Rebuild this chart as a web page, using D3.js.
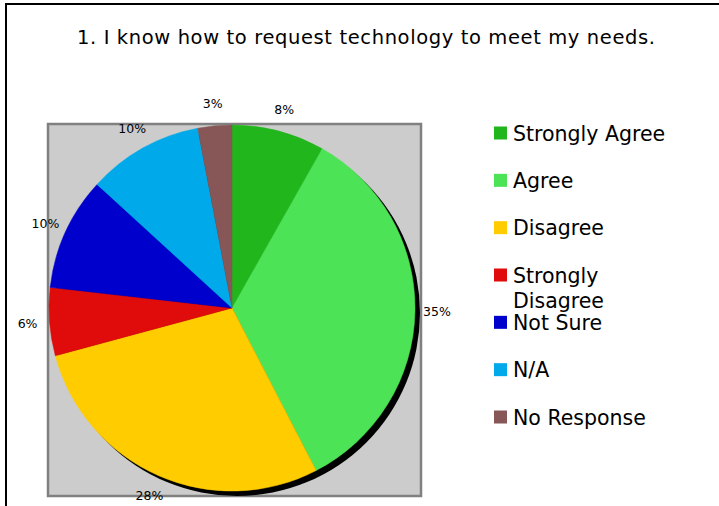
<!DOCTYPE html>
<html>
<head>
<meta charset="utf-8">
<script src="https://cdn.jsdelivr.net/npm/d3@7"></script>
<style>
  html, body { margin: 0; padding: 0; background: #fff; }
  svg { display: block; }
  text { font-family: "DejaVu Sans", Verdana, sans-serif; fill: #000; }
</style>
</head>
<body>
<svg id="chart" width="719" height="506"></svg>
<script>
const title = "1. I know how to request technology to meet my needs.";
const categories = ["Strongly Agree", "Agree", "Disagree", "Strongly Disagree", "Not Sure", "N/A", "No Response"];
const values = [8.2, 34.2, 28.4, 6.0, 10.0, 10.2, 3.0];
const pctLabels = ["8%", "35%", "28%", "6%", "10%", "10%", "3%"];
const colors = ["#21b61b", "#4de356", "#ffcc00", "#e00b0b", "#0000cc", "#00aaea", "#875757"];

const svg = d3.select("#chart");

// outer frame
svg.append("rect").attr("x", 6).attr("y", 4).attr("width", 740).attr("height", 540)
  .attr("fill", "#fff").attr("stroke", "#000").attr("stroke-width", 2);

svg.append("text").attr("x", 366).attr("y", 43.5).attr("text-anchor", "middle")
  .attr("font-size", 19.5)
  .attr("textLength", 578).attr("lengthAdjust", "spacing")
  .text(title);

// plot area
const plot = { x: 48, y: 124, w: 373, h: 372 };
svg.append("rect").attr("x", plot.x).attr("y", plot.y).attr("width", plot.w).attr("height", plot.h)
  .attr("fill", "#cccccc").attr("stroke", "#808080").attr("stroke-width", 2.5);

const cx = 232, cy = 308, r = 183;
const pie = d3.pie().sort(null).value(d => d)(values);
const arc = d3.arc().innerRadius(0).outerRadius(r);

// shadow
svg.append("circle").attr("cx", cx + 5).attr("cy", cy + 5).attr("r", r).attr("fill", "#000");

const g = svg.append("g").attr("transform", `translate(${cx},${cy})`);
g.selectAll("path.slice").data(pie).join("path")
  .attr("class", "slice")
  .attr("d", arc)
  .attr("fill", (d, i) => colors[i])
  .attr("stroke", (d, i) => colors[i])
  .attr("stroke-width", 0.5);

const labelArc = d3.arc().innerRadius(r + 22).outerRadius(r + 22);
g.selectAll("text.lbl").data(pie).join("text")
  .attr("class", "lbl")
  .attr("transform", d => `translate(${labelArc.centroid(d)})`)
  .attr("text-anchor", "middle")
  .attr("dominant-baseline", "central")
  .attr("font-size", 12.5)
  .attr("fill", "#222")
  .text((d, i) => pctLabels[i]);

// legend
const legY = d3.scalePoint().domain(categories).range([133, 417]);
const leg = svg.append("g");
categories.forEach((c, i) => {
  const y = legY(c);
  leg.append("rect").attr("x", 494).attr("y", y - 6.5).attr("width", 13).attr("height", 13)
    .attr("fill", colors[i]);
  const words = c === "Strongly Disagree" ? ["Strongly", "Disagree"] : [c];
  const t = leg.append("text").attr("x", 513).attr("y", y + 7.5).attr("font-size", 20.5);
  words.forEach((w, j) => {
    t.append("tspan").attr("x", 513).attr("dy", j === 0 ? 0 : 25).text(w);
  });
});
</script>
</body>
</html>
